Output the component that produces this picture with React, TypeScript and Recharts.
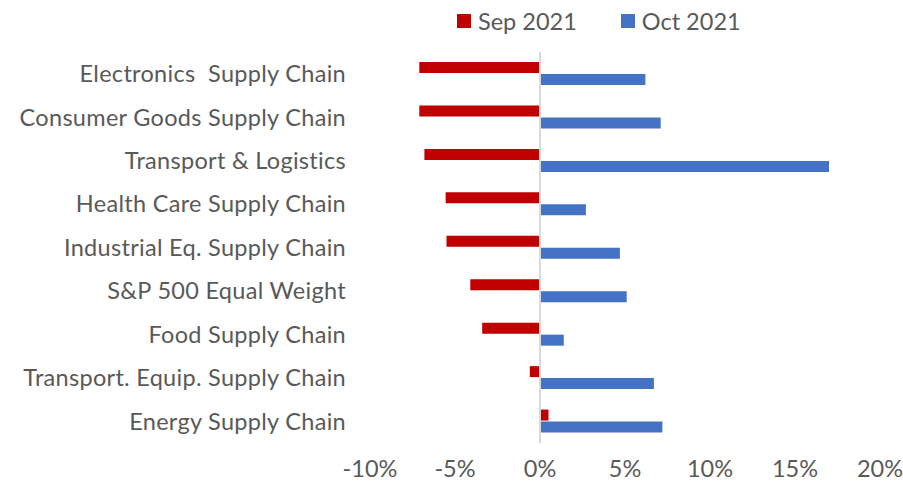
import { BarChart, Bar, XAxis, YAxis, ReferenceLine } from 'recharts';

const categories = [
  'Electronics\u00a0 Supply Chain',
  'Consumer Goods Supply Chain',
  'Transport & Logistics',
  'Health Care Supply Chain',
  'Industrial Eq. Supply Chain',
  'S&P 500 Equal Weight',
  'Food Supply Chain',
  'Transport. Equip. Supply Chain',
  'Energy Supply Chain',
];

const sep2021 = [-7.1, -7.1, -6.8, -5.55, -5.5, -4.1, -3.4, -0.6, 0.5];
const oct2021 = [6.2, 7.1, 17.0, 2.7, 4.7, 5.1, 1.4, 6.7, 7.2];

const xTicks = [-10, -5, 0, 5, 10, 15, 20];

const seriesNames = ['Sep 2021', 'Oct 2021'];
const seriesColors = ['#c00000', '#4472c4'];

const data = categories.map((name, i) => ({ name, sep: sep2021[i], oct: oct2021[i] }));

const textColor = '#595959';
const font = 'Lato, "Open Sans", sans-serif';
const fontSize = 23.5;

export default function App() {
  return (
    <div style={{ position: 'fixed', left: 0, top: 0, width: 903, height: 487, background: '#fff' }}>
      {/* legend drawn as plain html above the plot */}
      <div
        style={{
          position: 'absolute',
          top: 5,
          left: 457,
          display: 'flex',
          gap: 44,
          fontFamily: font,
          fontSize,
          color: textColor,
          lineHeight: '32px',
        }}
      >
        {seriesNames.map((label, i) => (
          <div key={label} style={{ display: 'flex', alignItems: 'center' }}>
            <span style={{ width: 14, height: 14, background: seriesColors[i], marginRight: 7, display: 'inline-block' }} />
            {label}
          </div>
        ))}
      </div>
      <BarChart
        width={903}
        height={487}
        data={data}
        layout="vertical"
        margin={{ top: 52, right: 23, left: 0, bottom: 0 }}
        barSize={11}
        barGap={1}
        barCategoryGap={0}
      >
        <XAxis
          type="number"
          domain={[-10, 20]}
          ticks={xTicks}
          tickFormatter={(v) => `${v}%`}
          axisLine={false}
          tickLine={false}
          tickSize={0}
          tickMargin={17}
          height={44}
          tick={{ fill: textColor, fontSize, fontFamily: font }}
          interval={0}
        />
        <YAxis
          dataKey="name"
          type="category"
          width={370}
          axisLine={false}
          tickLine={false}
          tickSize={0}
          tickMargin={24}
          interval={0}
          tick={{ fill: textColor, fontSize, fontFamily: font, style: { whiteSpace: 'pre', letterSpacing: 0.3 } }}
        />
        <ReferenceLine x={0} stroke="#d9d9d9" strokeWidth={2} />
        <Bar dataKey="sep" name={seriesNames[0]} fill={seriesColors[0]} isAnimationActive={false} />
        <Bar dataKey="oct" name={seriesNames[1]} fill={seriesColors[1]} isAnimationActive={false} />
      </BarChart>
    </div>
  );
}
